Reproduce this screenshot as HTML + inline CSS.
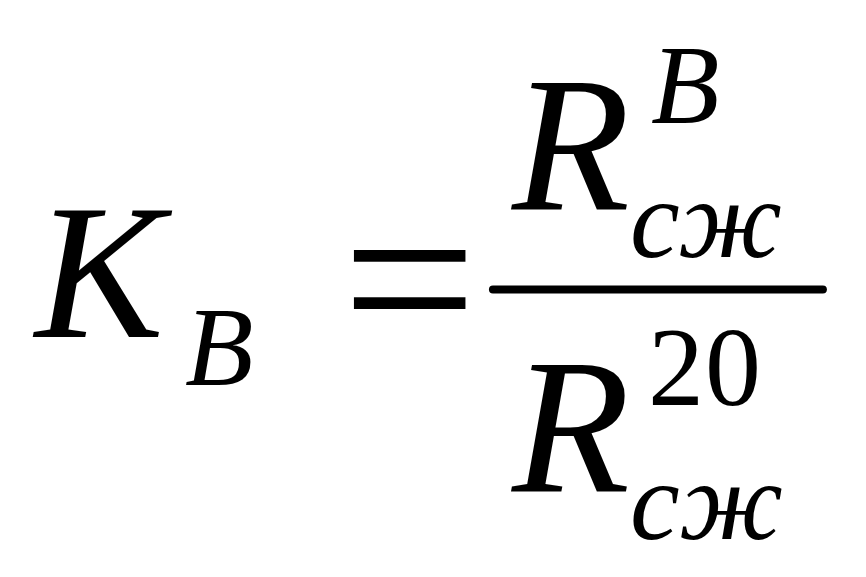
<!DOCTYPE html>
<html lang="ru">
<head>
<meta charset="utf-8">
<meta name="viewport" content="width=866, initial-scale=1">
<title>Формула: коэффициент водостойкости</title>
<style>
  html, body { margin: 0; padding: 0; background: #fff; }
  body {
    width: 866px; height: 577px; position: relative; overflow: hidden;
    font-family: "Liberation Serif", serif; color: #000;
  }
  .formula { position: absolute; left: 0; top: 0; width: 866px; height: 577px; }
  .g {
    position: absolute; display: block; margin: 0; padding: 0;
    line-height: 1; white-space: nowrap;
    font-style: italic; font-weight: normal;
  }
  .n { font-style: normal; }
  .b { font-size: 193.3px; }   /* base size   */
  .s { font-size: 112px; }     /* sub / super */
  .eq { font-size: 238px; transform-origin: 0 0; transform: scaleX(1.0068); }
  .bar { position: absolute; left: 0; top: 0; width: 866px; height: 577px; display: block; }
</style>
</head>
<body>
<div class="formula" role="math" aria-label="К в = R в сж / R 20 сж">
  <!-- left-hand side -->
  <span class="g b" style="left:35px;top:176px;">K</span>
  <span class="g s" style="left:185px;top:291px;">B</span>

  <!-- equals sign -->
  <span class="g n eq" style="left:342.06px;top:159px;">=</span>

  <!-- numerator -->
  <span class="g b" style="left:512px;top:48px;">R</span>
  <span class="g s" style="left:651px;top:29px;">B</span>
  <span class="g s" style="left:630px;top:163px;letter-spacing:-0.25px;">сж</span>

  <!-- fraction bar -->
  <svg class="bar" width="866" height="577" viewBox="0 0 866 577" aria-hidden="true">
    <line x1="492.94" y1="289.5" x2="822.9" y2="289.5" stroke="#000" stroke-width="8" stroke-linecap="round"/>
  </svg>

  <!-- denominator -->
  <span class="g b" style="left:512px;top:330px;">R</span>
  <span class="g s n" style="left:648px;top:311px;letter-spacing:1px;">20</span>
  <span class="g s" style="left:630px;top:445px;letter-spacing:0.75px;">сж</span>
</div>
</body>
</html>
